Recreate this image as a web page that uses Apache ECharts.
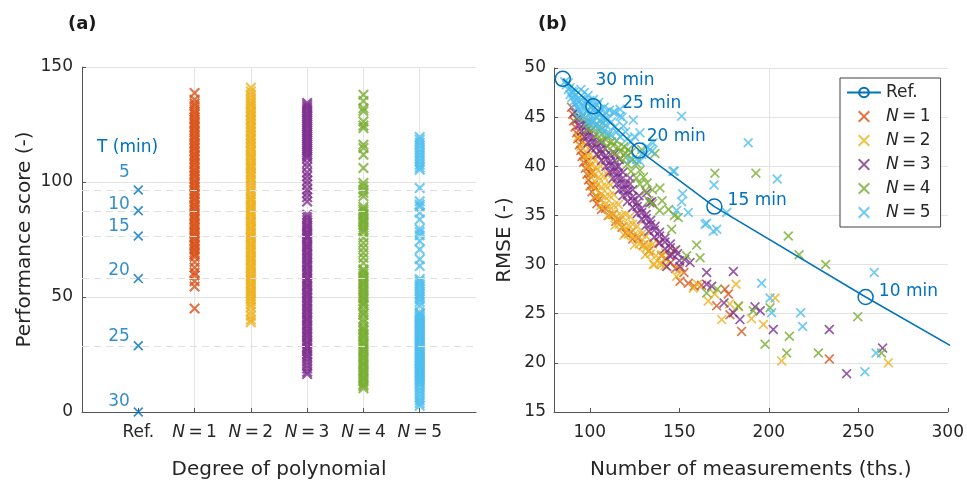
<!DOCTYPE html>
<html>
<head>
<meta charset="utf-8">
<script src="https://cdn.jsdelivr.net/npm/echarts@6/dist/echarts.min.js"></script>
<style>
  html, body { margin: 0; padding: 0; background: #fff; }
  #chart { width: 967px; height: 485px; }
</style>
</head>
<body>
<div id="chart"></div>
<script>
// ---------- data ----------
// (a) performance score per polynomial degree
const categories = ['Ref.', 'N = 1', 'N = 2', 'N = 3', 'N = 4', 'N = 5'];
const refTimes = [5, 10, 15, 20, 25, 30];               // time window T (min)
const refScore = [96.5, 87.5, 76.5, 58.0, 28.8, 0];

const scoreN1 = [138.7,135.8,134.2,133.1,131.6,130.4,129.5,128.2,127.3,126.1,125.4,124.2,123.6,122.3,121.5,120.2,119.4,118.3,117.1,116.4,115.2,114.5,113.3,112.1,111.4,110.2,109.6,108.3,107.5,106.2,105.1,104.4,103.2,102.5,101.3,100.1,99.4,98.2,97.5,96.3,95.1,94.6,93.2,92.4,91.3,90.1,89.5,88.2,87.4,86.1,85.3,84.2,83.5,82.1,81.4,80.2,79.3,78.1,77.4,76.2,75.5,74.3,73.1,72.4,71.2,70.5,69.3,68.4,67.5,65.2,62.8,60.6,59.4,56.9,54.6,45.0];
const scoreN2 = [141.0,139.4,137.9,136.5,135.2,134.1,133.3,132.2,131.0,130.3,129.1,128.4,127.2,126.5,125.3,124.1,123.4,122.2,121.5,120.3,119.1,118.4,117.2,116.5,115.3,114.2,113.4,112.1,111.3,110.2,109.4,108.1,107.3,106.2,105.5,104.1,103.4,102.2,101.1,99.8,98.4,97.1,95.8,94.6,93.2,92.4,91.3,90.1,89.2,88.5,87.3,86.1,85.4,84.2,83.1,82.4,81.2,80.1,79.4,78.2,77.3,76.1,75.4,74.2,73.1,72.4,71.3,70.2,69.4,68.1,67.3,66.2,65.4,64.1,63.2,62.4,61.2,60.3,59.1,58.2,57.4,56.1,55.3,54.2,53.1,52.2,51.4,50.3,49.2,48.1,46.8,45.5,43.6,41.8,40.2,39.0];
const scoreN3 = [134.4,133.5,132.6,131.8,130.9,130.1,129.2,128.4,127.5,126.6,125.8,124.9,124.1,123.2,122.3,121.5,120.6,119.8,118.9,118.1,117.2,116.3,115.5,114.6,113.8,112.9,112.1,111.2,110.3,108.4,106.5,104.2,102.5,100.6,98.9,96.8,95.2,93.4,91.5,85.8,84.6,83.5,82.2,81.1,80.3,79.2,78.1,77.3,76.2,75.4,74.3,73.1,72.2,71.4,70.3,69.1,68.4,67.2,66.3,65.1,64.2,63.4,62.1,61.3,60.2,59.4,58.1,57.3,56.2,55.1,54.4,53.2,52.1,51.3,50.2,49.4,48.1,47.3,46.2,45.1,44.4,43.2,42.3,41.1,40.2,39.4,38.1,37.3,36.2,35.1,34.3,33.2,32.4,31.1,30.2,29.3,28.1,27.2,26.4,25.1,24.3,23.1,21.8,20.3,18.9,17.5,16.5];
const scoreN4 = [137.9,135.2,132.1,130.8,126.3,124.6,123.5,116.2,114.8,111.9,106.1,99.6,98.2,96.7,95.3,93.8,89.2,88.1,87.3,86.2,85.4,84.1,83.2,82.4,81.3,80.2,79.1,78.2,75.8,73.5,71.4,69.2,67.1,64.8,62.1,61.3,60.2,59.1,58.3,57.2,56.1,55.4,54.2,53.1,52.3,51.2,50.1,49.3,48.2,47.1,46.3,44.6,43.1,42.2,40.3,38.9,37.2,36.1,35.3,34.2,33.1,32.4,31.2,30.1,29.3,28.2,27.1,26.3,25.2,24.1,23.3,22.2,21.1,20.3,19.2,18.1,17.3,16.2,15.1,14.3,13.2,12.1,11.3,10.3];
const scoreN5 = [119.6,118.4,117.1,115.8,114.3,112.9,111.6,110.2,108.9,107.5,106.3,105.3,97.4,91.6,90.2,89.4,86.6,83.7,79.6,78.3,76.8,74.3,70.7,66.4,63.5,57.8,56.9,55.6,54.8,53.5,52.4,51.2,50.3,49.1,47.8,46.2,43.3,42.6,41.8,41.1,40.3,39.6,38.8,38.1,37.4,36.6,35.9,35.1,34.4,33.7,32.9,32.2,31.4,30.7,29.9,29.2,28.5,27.7,27.0,26.2,25.5,24.8,24.0,23.3,22.5,21.8,21.1,20.3,19.6,18.8,18.1,17.4,16.6,15.9,15.1,14.4,13.7,12.9,12.0,10.6,9.2,7.8,6.4,5.1,3.9,2.7];

// (b) RMSE against number of measurements (ths.)
const refMeasurements = [508, 254.1, 169.6, 127.7, 102.0, 84.9];
const refRmse = [0.2, 26.7, 35.9, 41.6, 46.1, 48.9];

const rmseN1 = [[89.8,46.0],[90.5,45.3],[91.0,44.6],[91.8,44.0],[92.6,43.4],[93.3,42.8],[94.2,42.2],[95.0,41.6],[95.7,41.0],[97.5,41.1],[96.6,40.4],[98.4,40.5],[97.5,39.8],[98.4,39.2],[100.5,39.3],[99.3,38.6],[100.2,38.0],[102.0,38.1],[101.2,37.4],[102.4,36.8],[104.0,36.9],[104.0,36.2],[106.5,35.6],[108.7,35.7],[110.5,35.0],[113.0,35.1],[114.5,34.4],[116.5,34.5],[118.0,33.8],[120.0,33.2],[123.0,33.3],[124.0,32.6],[127.0,32.7],[130.0,32.0],[133.0,31.4],[138.3,32.2],[140.1,30.9],[142.5,30.6],[145.2,30.2],[147.9,29.6],[150.4,28.3],[152.6,29.2],[155.0,28.1],[158.3,27.8],[162.4,27.9],[170.9,25.8],[175.5,27.5],[177.4,27.0],[178.3,24.9],[184.8,23.2],[233.8,20.4],[94.5,43.0],[96.0,42.5],[99.5,40.0],[101.5,39.4],[103.0,37.8],[105.5,36.7]];
const rmseN2 = [[93.5,43.0],[96.1,43.1],[95.0,42.0],[97.6,42.1],[100.1,41.9],[97.1,41.0],[99.4,41.1],[102.1,40.9],[104.6,41.0],[98.6,40.0],[101.0,40.1],[103.5,39.9],[106.1,40.0],[100.1,39.0],[102.5,39.1],[105.0,38.9],[107.6,39.0],[110.1,39.1],[101.6,38.0],[104.1,38.1],[106.5,37.9],[109.0,38.0],[111.6,38.1],[103.5,37.0],[106.1,37.1],[108.5,36.9],[111.0,37.0],[113.5,37.1],[106.0,36.0],[108.6,36.1],[111.1,35.9],[113.5,36.0],[116.0,36.1],[110.1,35.0],[112.5,35.1],[115.0,34.9],[117.6,35.0],[120.0,35.1],[122.5,34.9],[114.1,34.0],[116.5,34.1],[119.0,33.9],[121.6,34.0],[124.0,34.1],[126.5,33.9],[119.1,33.0],[121.5,33.1],[124.0,32.9],[126.6,33.0],[129.0,33.1],[131.5,32.9],[125.0,32.0],[127.6,32.1],[130.0,31.9],[132.5,32.0],[135.1,32.1],[131.1,31.0],[134.0,31.1],[137.0,30.9],[140.1,31.0],[136.0,30.0],[139.1,30.1],[142.0,29.9],[131.8,31.7],[135.5,30.0],[140.2,30.0],[142.4,31.2],[146.7,31.4],[148.5,28.8],[150.2,29.5],[157.8,27.6],[160.1,28.0],[166.2,26.3],[169.8,27.0],[173.7,24.4],[178.2,26.0],[181.7,28.0],[183.0,25.7],[190.3,24.5],[197.0,23.9],[203.5,26.6],[207.2,20.2],[266.8,20.0]];
const rmseN3 = [[91.5,45.5],[93.0,44.8],[95.0,44.9],[94.0,44.2],[96.5,44.3],[98.0,44.1],[95.5,43.6],[98.0,43.7],[100.0,43.5],[97.0,43.0],[99.5,43.1],[102.0,42.9],[99.0,42.4],[101.5,42.5],[104.0,42.3],[106.5,42.4],[101.0,41.8],[103.5,41.9],[106.0,41.7],[108.5,41.8],[104.0,41.2],[106.5,41.3],[109.0,41.1],[111.5,41.2],[114.0,41.3],[106.5,40.6],[109.0,40.7],[111.5,40.5],[114.0,40.6],[116.5,40.7],[109.0,40.0],[111.5,40.1],[114.0,39.9],[116.0,40.0],[111.0,39.4],[113.5,39.5],[116.0,39.3],[118.5,39.4],[113.0,38.8],[115.5,38.9],[118.0,38.7],[122.5,38.8],[115.0,38.2],[117.5,38.3],[120.0,38.1],[122.5,38.2],[116.5,37.6],[119.0,37.7],[121.5,37.5],[124.0,37.6],[118.5,37.0],[121.0,37.1],[124.0,36.9],[127.5,37.0],[121.0,36.4],[124.0,36.5],[126.5,36.3],[124.0,35.8],[126.5,35.9],[129.0,35.7],[126.5,35.2],[129.0,35.3],[131.5,35.1],[129.0,34.6],[131.5,34.7],[134.0,34.5],[131.5,34.0],[134.0,34.1],[136.5,33.9],[133.0,33.4],[136.0,33.5],[139.0,33.3],[136.0,32.8],[139.0,32.9],[142.0,32.7],[139.0,32.2],[142.0,32.3],[145.0,32.1],[142.0,31.6],[145.0,31.7],[148.0,31.5],[146.0,31.0],[149.0,31.1],[150.0,30.4],[153.0,30.5],[131.8,37.3],[133.6,36.3],[134.6,36.4],[143.0,29.8],[144.7,30.9],[150.4,29.8],[156.0,30.2],[165.3,29.2],[165.3,28.0],[168.1,27.8],[175.0,26.1],[180.2,29.3],[180.2,25.1],[183.9,24.4],[192.3,25.7],[195.2,25.3],[202.5,23.4],[233.8,23.4],[243.5,18.9],[263.6,21.5]];
const rmseN4 = [[93.0,45.0],[96.0,45.1],[98.4,44.4],[101.0,44.5],[104.0,44.3],[107.0,44.4],[99.0,43.8],[102.0,43.9],[105.0,43.7],[104.0,43.2],[107.0,43.3],[110.0,43.1],[106.0,42.6],[109.0,42.7],[112.0,42.5],[115.0,42.6],[110.0,42.0],[113.0,42.1],[116.0,41.9],[119.0,42.0],[121.5,41.7],[113.0,41.4],[117.0,41.5],[120.0,41.3],[123.0,41.4],[117.0,40.8],[120.0,40.9],[124.0,40.7],[121.0,40.2],[126.0,40.3],[123.0,39.5],[128.0,39.6],[126.0,38.8],[130.0,38.9],[128.0,38.2],[132.0,38.3],[139.2,37.8],[131.0,37.5],[135.0,37.6],[133.0,36.5],[135.1,36.2],[140.4,36.5],[139.0,35.5],[144.0,35.6],[147.3,35.0],[149.4,34.8],[136.4,41.3],[129.0,41.7],[145.7,33.6],[154.1,30.9],[159.7,32.0],[161.6,30.7],[165.3,27.1],[169.9,39.3],[171.2,27.5],[183.0,25.8],[191.3,25.3],[192.8,39.3],[197.9,21.9],[200.7,25.6],[210.0,21.0],[210.9,32.9],[211.5,22.7],[216.9,31.0],[227.7,21.0],[231.8,30.0],[249.7,24.7],[263.0,21.0]];
const rmseN5 = [[86.0,48.6],[87.0,48.3],[88.0,48.5],[88.0,47.8],[89.0,48.0],[89.0,47.3],[90.0,47.6],[90.0,47.0],[91.0,47.5],[91.0,46.6],[92.0,47.2],[92.0,46.3],[93.0,46.8],[93.0,46.0],[94.0,46.5],[94.0,45.7],[95.0,46.8],[95.0,45.4],[95.0,47.8],[96.0,46.3],[96.0,45.2],[97.0,46.0],[97.0,44.9],[97.0,47.5],[98.0,46.5],[98.0,45.6],[99.0,45.8],[99.0,44.6],[99.0,47.2],[100.0,46.7],[100.0,45.3],[100.0,44.3],[101.0,46.0],[101.0,44.8],[102.0,45.8],[102.0,44.5],[102.0,46.8],[103.0,45.5],[103.0,44.2],[104.0,46.2],[104.0,45.0],[105.0,45.3],[105.0,44.0],[105.0,46.5],[106.0,45.8],[106.0,44.6],[107.0,45.0],[107.0,43.8],[108.0,44.8],[108.0,43.6],[108.0,46.0],[109.0,45.5],[109.0,44.2],[110.0,44.8],[110.0,43.4],[111.0,45.7],[112.0,44.5],[112.0,43.2],[113.0,45.5],[114.0,44.0],[114.0,45.5],[115.0,43.5],[116.9,45.1],[116.9,45.8],[117.0,43.0],[118.0,45.0],[118.7,44.1],[120.0,43.5],[121.0,42.8],[122.5,40.7],[123.0,42.5],[124.3,44.7],[125.0,43.0],[126.2,40.7],[128.0,43.4],[128.0,40.5],[129.0,41.2],[131.8,42.0],[133.6,41.7],[134.6,41.5],[135.3,42.4],[146.5,39.5],[147.2,39.5],[148.5,35.5],[151.3,45.1],[151.3,36.4],[151.9,37.2],[155.0,35.3],[164.4,34.1],[165.3,34.2],[169.0,33.4],[169.4,38.1],[170.9,33.6],[176.5,35.3],[188.5,42.4],[196.0,28.1],[200.7,26.6],[201.6,25.1],[204.7,38.7],[217.8,25.1],[218.9,23.7],[253.7,19.1],[258.9,29.2],[259.9,21.0]];

// ---------- styles ----------
const FONT = 'DejaVu Sans';
const TXT = '#262626';
const AXIS = '#555555';
const GRID = '#e3e3e3';
const BLUE = '#0072BD';
const COLORS = ['#D95319', '#EDB120', '#7E2F8E', '#77AC30', '#4DBEEE'];
const CROSS = 'path://M0,1.2L1.2,0L5,3.8L8.8,0L10,1.2L6.2,5L10,8.8L8.8,10L5,6.2L1.2,10L0,8.8L3.8,5Z';
const CROSS_BOLD = 'path://M0,1.4L1.4,0L5,3.6L8.6,0L10,1.4L6.4,5L10,8.6L8.6,10L5,6.4L1.4,10L0,8.6L3.6,5Z';
const NONE = 'rgba(0,0,0,0)';

const italicRich = { i: { fontStyle: 'italic', fontSize: 17, fontFamily: FONT, color: TXT } };
const fmtN = s => s.startsWith('N') ? '{i|N}' + s.slice(1).replace(/ /g, '\u2009') : s;

const tickLabel = { color: TXT, fontSize: 17, fontFamily: FONT };
const axisName = { color: TXT, fontSize: 20, fontFamily: FONT };

// label placement for the T annotations next to the reference marks
const refScoreLabelDy = [-17, -6, -9, -8, -9, -10];
const refRmseLabelOffset = [[0, 0], [5, -5], [5, -6], [-1, -14], [20.5, -3], [24.5, 2]];

const scoreSets = [scoreN1, scoreN2, scoreN3, scoreN4, scoreN5];
const rmseSets = [rmseN1, rmseN2, rmseN3, rmseN4, rmseN5];

const series = [];

// (a) dashed guides at the reference scores (the zero guide sits on the axis line)
series.push({
  name: 'guides', type: 'line', xAxisIndex: 0, yAxisIndex: 0, data: [], silent: true, z: 1,
  markLine: {
    silent: true, symbol: ['none', 'none'], label: { show: false },
    lineStyle: { color: '#e0e0e0', type: [7, 5], width: 1 },
    emphasis: { disabled: true },
    data: refScore.filter(v => v > 0).map(v => ({ yAxis: v }))
  }
});

// (a) reference marks with T labels
series.push({
  name: 'score Ref.', type: 'scatter', xAxisIndex: 0, yAxisIndex: 0, z: 5,
  symbol: CROSS, symbolSize: 10, itemStyle: { color: BLUE },
  data: refScore.map((v, i) => ({
    value: [1, v],
    label: {
      show: true, position: 'left', distance: 3.5, offset: [0, refScoreLabelDy[i]],
      formatter: String(refTimes[i]), color: BLUE, fontSize: 17, fontFamily: FONT
    }
  })),
  markPoint: {
    silent: true, symbol: 'circle', symbolSize: 0,
    label: { show: true, position: 'inside', formatter: 'T (min)', color: BLUE, fontSize: 17, fontFamily: FONT },
    data: [{ coord: [0.81, 115] }]
  }
});

// (a) score columns per degree
scoreSets.forEach((arr, k) => {
  series.push({
    name: 'score ' + categories[k + 1], type: 'scatter', xAxisIndex: 0, yAxisIndex: 0, z: 3,
    symbol: CROSS_BOLD, symbolSize: 11, itemStyle: { color: COLORS[k] },
    data: arr.map(v => [k + 2, v])
  });
});

// (b) scatter per degree
rmseSets.forEach((arr, k) => {
  series.push({
    name: categories[k + 1], type: 'scatter', xAxisIndex: 1, yAxisIndex: 1, z: 3 + k * 0.01,
    symbol: CROSS, symbolSize: 10, itemStyle: { color: COLORS[k] },
    data: arr
  });
});

// (b) reference line
series.push({
  name: 'Ref.', type: 'line', xAxisIndex: 1, yAxisIndex: 1, z: 6, clip: true,
  symbol: 'circle', symbolSize: 15, showAllSymbol: true,
  lineStyle: { color: BLUE, width: 1.5 },
  itemStyle: { color: NONE, borderColor: BLUE, borderWidth: 1.5 },
  data: refMeasurements.map((x, i) => ({
    value: [x, refRmse[i]],
    label: {
      show: x <= 300, position: 'right', distance: 0,
      offset: refRmseLabelOffset[i],
      formatter: refTimes[i] + ' min', color: BLUE, fontSize: 17, fontFamily: FONT
    }
  }))
});

const option = {
  animation: false,
  backgroundColor: '#fff',
  title: [
    { text: '(a)', left: 63, top: 10, textStyle: { fontSize: 18, fontWeight: 'bold', fontFamily: FONT, color: '#1a1a1a' } },
    { text: '(b)', left: 533, top: 10, textStyle: { fontSize: 18, fontWeight: 'bold', fontFamily: FONT, color: '#1a1a1a' } }
  ],
  grid: [
    { left: 82, top: 67, width: 394, height: 346 },
    { left: 554, top: 68, width: 394, height: 345 }
  ],
  xAxis: [
    {
      gridIndex: 0, type: 'value', min: 0, max: 7, interval: 1,
      name: 'Degree of polynomial', nameLocation: 'middle', nameGap: 48, nameTextStyle: axisName,
      axisLine: { show: true, onZero: false, lineStyle: { color: AXIS } },
      axisTick: { show: true, inside: true, length: 4, customValues: [1, 2, 3, 4, 5, 6], lineStyle: { color: AXIS } },
      axisLabel: Object.assign({ margin: 12, customValues: [1, 2, 3, 4, 5, 6], formatter: v => fmtN(categories[v - 1] || ''), rich: italicRich }, tickLabel),
      splitLine: { show: true, lineStyle: { color: [NONE, GRID, GRID, GRID, GRID, GRID, GRID, NONE] } }
    },
    {
      gridIndex: 1, type: 'value', min: 80, max: 300, interval: 10,
      name: 'Number of measurements (ths.)', nameLocation: 'middle', nameGap: 48, nameTextStyle: axisName,
      axisLine: { show: true, onZero: false, lineStyle: { color: AXIS } },
      axisTick: { show: true, inside: true, length: 4, customValues: [100, 150, 200, 250, 300], lineStyle: { color: AXIS } },
      axisLabel: Object.assign({ margin: 12, customValues: [100, 150, 200, 250, 300] }, tickLabel),
      splitLine: { show: true, lineStyle: { color: [NONE, NONE, GRID, NONE, NONE] } }
    }
  ],
  yAxis: [
    {
      gridIndex: 0, type: 'value', min: 0, max: 150, interval: 50,
      name: 'Performance score (-)', nameLocation: 'middle', nameGap: 47, nameTextStyle: axisName,
      axisLine: { show: true, onZero: false, lineStyle: { color: AXIS } },
      axisTick: { show: true, inside: true, length: 4, lineStyle: { color: AXIS } },
      axisLabel: Object.assign({ margin: 9 }, tickLabel),
      splitLine: { show: true, lineStyle: { color: GRID } }
    },
    {
      gridIndex: 1, type: 'value', min: 15, max: 50, interval: 5,
      name: 'RMSE (-)', nameLocation: 'middle', nameGap: 39, nameTextStyle: axisName,
      axisLine: { show: true, onZero: false, lineStyle: { color: AXIS } },
      axisTick: { show: true, inside: true, length: 4, lineStyle: { color: AXIS } },
      axisLabel: Object.assign({ margin: 8 }, tickLabel),
      splitLine: { show: true, lineStyle: { color: GRID } }
    }
  ],
  legend: {
    data: ['Ref.', 'N = 1', 'N = 2', 'N = 3', 'N = 4', 'N = 5'],
    orient: 'vertical', left: 840, top: 78,
    itemWidth: 34, itemHeight: 12, itemGap: 7,
    padding: [6, 10, 6, 6],
    borderColor: '#404040', borderWidth: 1, backgroundColor: '#fff',
    selectedMode: false,
    formatter: fmtN,
    textStyle: { color: TXT, fontSize: 17, fontFamily: FONT, rich: italicRich }
  },
  series
};

const chart = echarts.init(document.getElementById('chart'), null, { renderer: 'canvas' });
chart.setOption(option);
</script>
</body>
</html>
